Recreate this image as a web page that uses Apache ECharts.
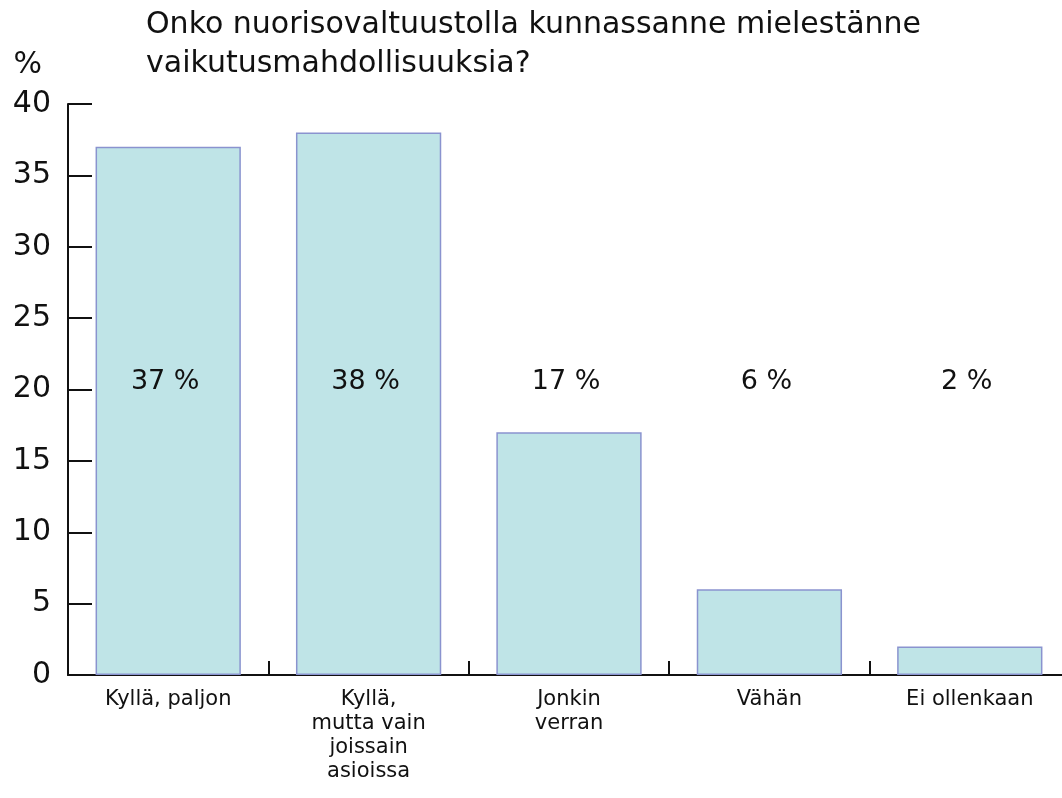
<!DOCTYPE html>
<html>
<head>
<meta charset="utf-8">
<script src="https://cdn.jsdelivr.net/npm/echarts@6/dist/echarts.min.js"></script>
<style>
  html, body { margin: 0; padding: 0; background: #fff; overflow: hidden; }
  #chart { width: 1070px; height: 798px; }
</style>
</head>
<body>
<div id="chart"></div>
<script>
const categories = ['Kyllä, paljon', 'Kyllä,\nmutta vain\njoissain\nasioissa', 'Jonkin\nverran', 'Vähän', 'Ei ollenkaan']
const values = [37, 38, 17, 6, 2]
const labelLevel = [20.5, 20.5, 20.5, 20.5, 20.5]
const titleText = 'Onko nuorisovaltuustolla kunnassanne mielestänne\nvaikutusmahdollisuuksia?'

const font = '"DejaVu Sans", "Noto Sans", sans-serif'
const chart = echarts.init(document.getElementById('chart'))

chart.setOption({
  animation: false,
  title: {
    text: titleText,
    left: 141,
    top: 1,
    textStyle: { fontFamily: font, fontSize: 30, fontWeight: 'normal', color: '#111', lineHeight: 39 }
  },
  grid: { left: 68, right: 0, top: 104, bottom: 123, containLabel: false },
  xAxis: {
    type: 'category',
    data: categories,
    axisLine: { lineStyle: { color: '#111', width: 2 } },
    axisTick: { show: true, inside: true, length: 14, lineStyle: { color: '#111', width: 2 } },
    axisLabel: {
      margin: 13,
      fontFamily: font,
      fontSize: 21,
      lineHeight: 24,
      color: '#111',
      interval: 0
    }
  },
  yAxis: {
    type: 'value',
    min: 0,
    max: 40,
    interval: 5,
    name: '%',
    nameLocation: 'end',
    nameGap: 24,
    nameTextStyle: { fontFamily: font, fontSize: 30, color: '#111', align: 'right', padding: [0, 26, 0, 0] },
    axisLine: { show: true, lineStyle: { color: '#111', width: 2 } },
    axisTick: { show: true, inside: true, length: 24, lineStyle: { color: '#111', width: 2 } },
    axisLabel: { margin: 17, fontFamily: font, fontSize: 30, color: '#111' },
    splitLine: { show: false }
  },
  series: [
    {
      type: 'bar',
      data: values,
      barCategoryGap: '27.5%',
      itemStyle: { color: '#bfe4e7', borderColor: '#8a93cf', borderWidth: 1.5 },
      z: 1
    },
    {
      type: 'scatter',
      data: labelLevel,
      symbolSize: 0,
      itemStyle: { color: '#111', opacity: 1 },
      label: {
        show: true,
        position: 'inside',
        offset: [-3, 0],
        formatter: p => values[p.dataIndex] + ' %',
        fontFamily: font,
        fontSize: 27,
        color: '#111'
      },
      silent: true,
      z: 3
    }
  ]
})
</script>
</body>
</html>
